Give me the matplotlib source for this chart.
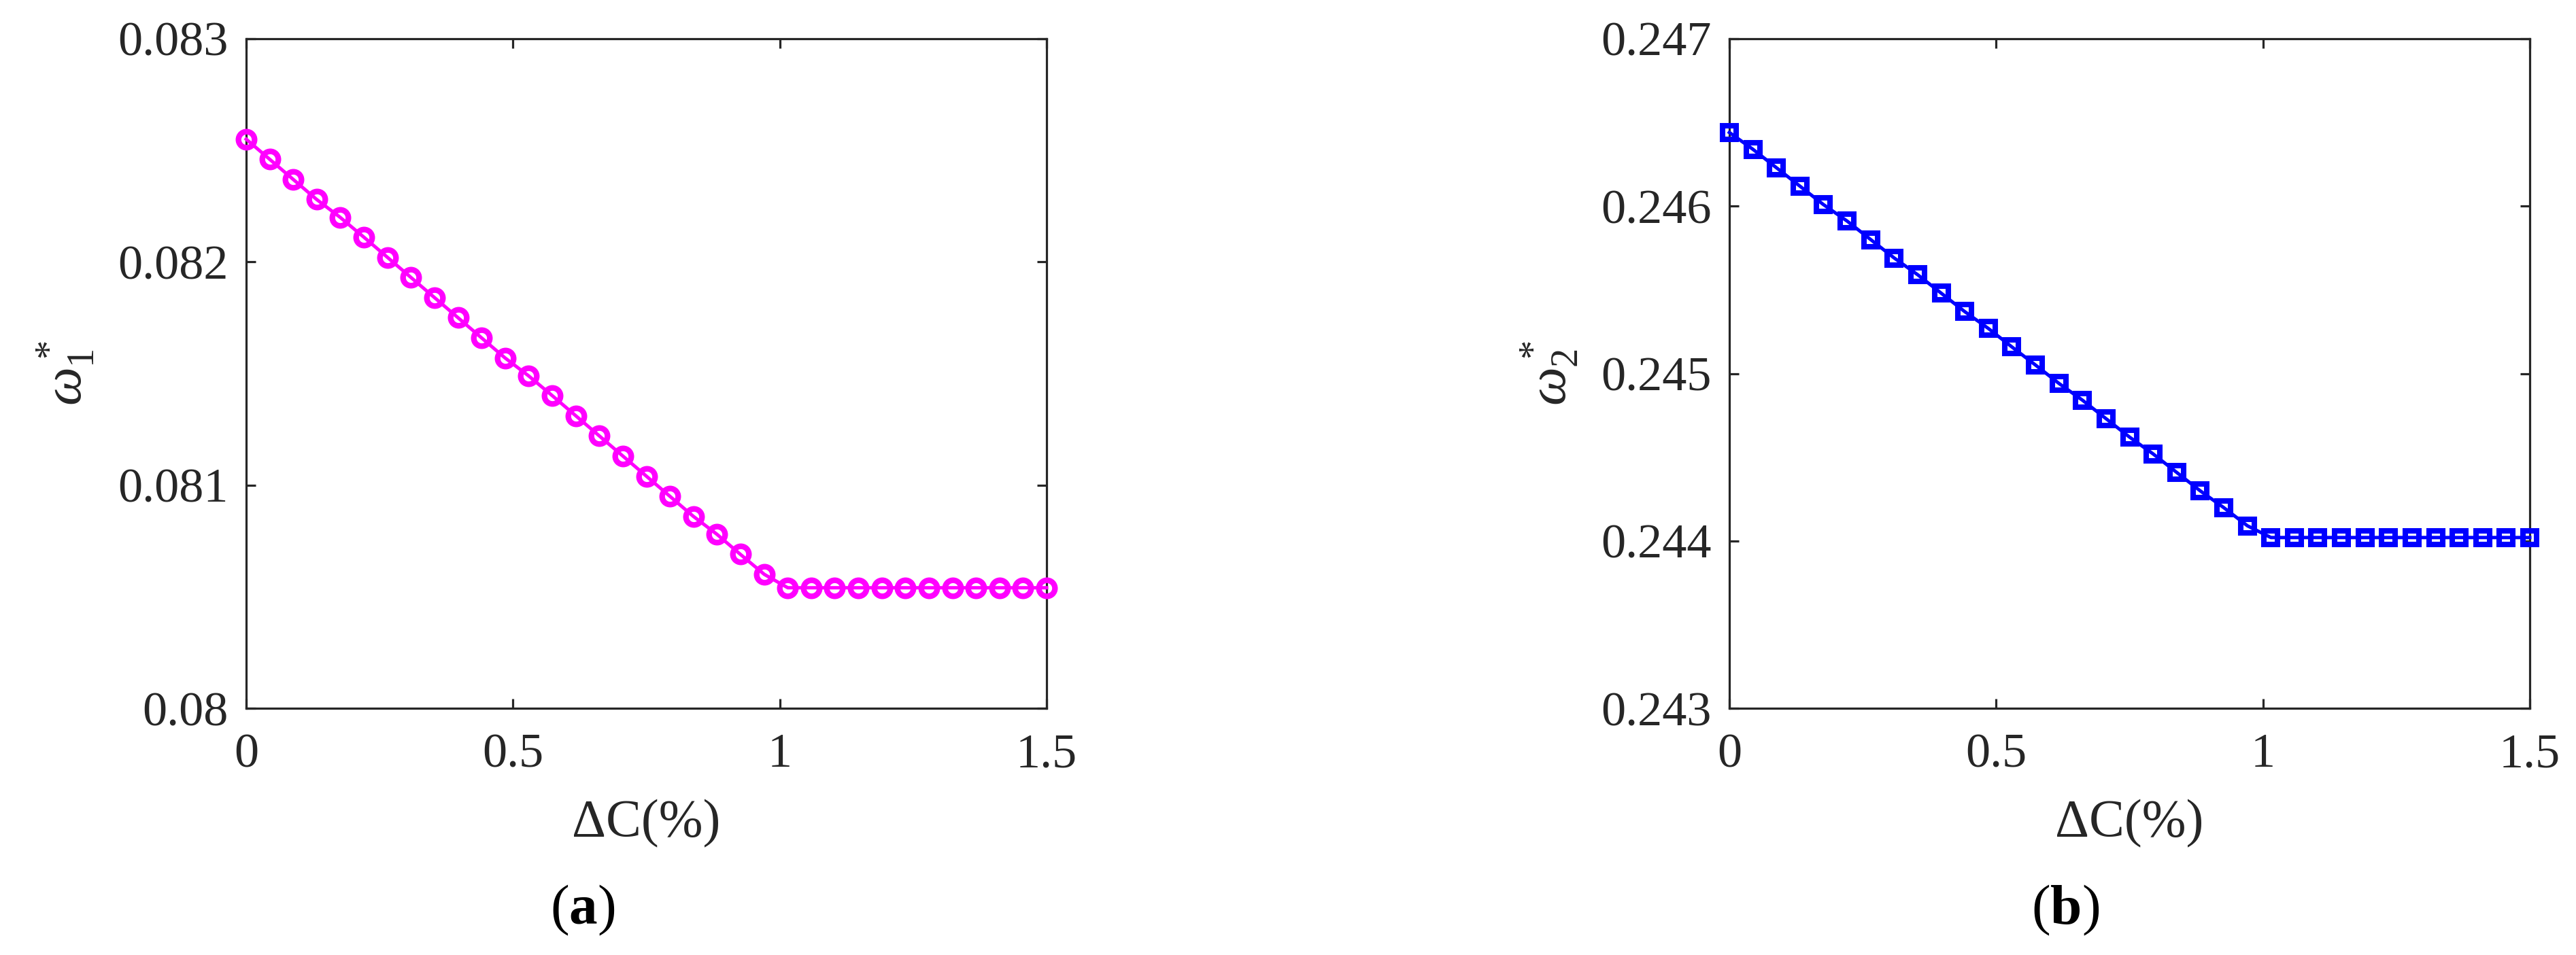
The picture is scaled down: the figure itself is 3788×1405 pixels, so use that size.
import matplotlib
import matplotlib.pyplot as plt

matplotlib.use("Agg")

plt.rcParams['font.family'] = ['Liberation Serif', 'DejaVu Serif']
plt.rcParams['mathtext.fontset'] = 'custom'
plt.rcParams['mathtext.rm'] = 'Liberation Serif'
plt.rcParams['mathtext.it'] = 'Liberation Serif:italic'
plt.rcParams['mathtext.bf'] = 'Liberation Serif:bold'

# data
delta_c = [0, 0.044, 0.088, 0.132, 0.176, 0.221, 0.265, 0.309, 0.353, 0.397,
           0.441, 0.485, 0.529, 0.574, 0.618, 0.662, 0.706, 0.75, 0.794, 0.838,
           0.882, 0.926, 0.971, 1.015, 1.059, 1.103, 1.147, 1.191, 1.235, 1.279,
           1.324, 1.368, 1.412, 1.456, 1.5]

omega1 = [0.08255, 0.08246, 0.08237, 0.08228, 0.08220, 0.08211, 0.08202, 0.08193,
          0.08184, 0.08175, 0.08166, 0.08157, 0.08149, 0.08140, 0.08131, 0.08122,
          0.08113, 0.08104, 0.08095, 0.08086, 0.08078, 0.08069, 0.08060, 0.08054,
          0.08054, 0.08054, 0.08054, 0.08054, 0.08054, 0.08054, 0.08054, 0.08054,
          0.08054, 0.08054, 0.08054]

omega2 = [0.24644, 0.24634, 0.24623, 0.24612, 0.24601, 0.24591, 0.24580, 0.24569,
          0.24559, 0.24548, 0.24537, 0.24527, 0.24516, 0.24505, 0.24494, 0.24484,
          0.24473, 0.24462, 0.24452, 0.24441, 0.24430, 0.24420, 0.24409, 0.24402,
          0.24402, 0.24402, 0.24402, 0.24402, 0.24402, 0.24402, 0.24402, 0.24402,
          0.24402, 0.24402, 0.24402]

x_ticks = [0, 0.5, 1, 1.5]
x_ticklabels = ['0', '0.5', '1', '1.5']
y1_ticks = [0.080, 0.081, 0.082, 0.083]
y1_ticklabels = ['0.08', '0.081', '0.082', '0.083']
y2_ticks = [0.243, 0.244, 0.245, 0.246, 0.247]
y2_ticklabels = ['0.243', '0.244', '0.245', '0.246', '0.247']

W, H = 3788, 1405
fig = plt.figure(figsize=(W / 100, H / 100), dpi=100)

axc = '#262626'


def style_axes(ax, yticks, yticklabels, ylabel):
    ax.set_xlim(0, 1.5)
    ax.set_ylim(yticks[0], yticks[-1])
    ax.set_xticks(x_ticks)
    ax.set_xticklabels(x_ticklabels)
    ax.set_yticks(yticks)
    ax.set_yticklabels(yticklabels)
    for s in ax.spines.values():
        s.set_linewidth(2.3)
        s.set_color(axc)
    ax.tick_params(direction='in', length=10, width=2.3, color=axc,
                   labelsize=52, labelcolor=axc, top=True, right=True)
    ax.tick_params(axis='y', pad=19)
    ax.tick_params(axis='x', pad=26)
    ax.set_xlabel('ΔC(%)', fontsize=56, color=axc, va='baseline')
    ax.xaxis.set_label_coords(0.5, -0.191)
    ax.set_ylabel(ylabel, fontsize=58, color=axc, va='center')
    ax.yaxis.set_label_coords(-0.225, 0.5)


ax1 = fig.add_axes([362 / W, 1 - 1042 / H, 1177 / W, 985 / H])
ax1.plot(delta_c, omega1, color='#FF00FF', linewidth=3.6, marker='o',
         markersize=17, markeredgewidth=6, markerfacecolor='none', clip_on=False, zorder=3)
style_axes(ax1, y1_ticks, y1_ticklabels, r'$\omega_1^*$')

ax2 = fig.add_axes([2543 / W, 1 - 1042 / H, 1177 / W, 985 / H])
ax2.plot(delta_c, omega2, color='#0000FF', linewidth=3.6, marker='s',
         markersize=15, markeredgewidth=5.8, markerfacecolor='none', clip_on=False, zorder=3)
style_axes(ax2, y2_ticks, y2_ticklabels, r'$\omega_2^*$')

fig.text(857 / W, 1 - 1359 / H, r'($\mathbf{a}$)', fontsize=60, ha='center', va='baseline')
fig.text(3037 / W, 1 - 1359 / H, r'($\mathbf{b}$)', fontsize=60, ha='center', va='baseline')

fig.savefig('out.png', dpi=100, facecolor='white')
